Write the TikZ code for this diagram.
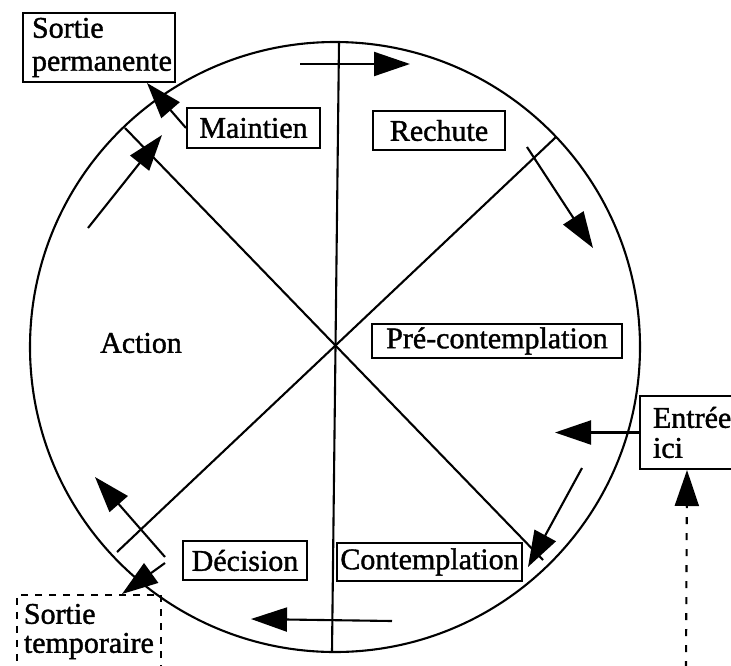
\documentclass[tikz,border=0pt]{standalone}
\usepackage{fontspec}
\setmainfont{Liberation Serif}[FakeBold=1.3]
\usetikzlibrary{arrows.meta,calc}
\begin{document}
\begin{tikzpicture}[x=1pt,y=-1pt,
  every node/.style={font=\fontsize{30}{31}\selectfont, inner sep=0pt},
  stage/.style={draw, line width=2pt},
  twoline/.style={stage, align=left},
  link/.style={line width=2.1pt},
  flow/.style={line width=2.1pt, -{Triangle[length=36pt,width=24pt]}},
  hint/.style={line width=1.8pt, dash pattern=on 7pt off 7pt}]
\useasboundingbox (0,0) rectangle (731,665);

% wheel: circle, vertical diameter and two diagonals
\coordinate (c) at (335,347);
\draw[link] (c) circle[radius=305pt];
\coordinate (top) at (339,42);
\coordinate (bot) at (332,652);
\coordinate (nw) at (125,128);
\coordinate (se) at (543,560);
\coordinate (ne) at (556,137);
\coordinate (sw) at (117,552);
\draw[link] (top) -- (bot);
\draw[link] (nw) -- (se);
\draw[link] (ne) -- (sw);

% stage labels
\node[stage, minimum width=133pt, minimum height=40pt] (maint) at (253.5,128) {Maintien};
\node[stage, minimum width=132pt, minimum height=39pt] (rech) at (439,130.5) {Rechute};
\node[stage, minimum width=250pt, minimum height=34pt] (pre) at (497,341) {Pré-contemplation};
\node (act) at (141,343) {Action};
\node[stage, minimum width=124pt, minimum height=39pt] (deci) at (245,560.5) {Décision};
\node[stage, minimum width=185pt, minimum height=38pt] (cont) at (429.5,562) {Contemplation};

% entry and exit boxes
\node[twoline, font=\fontsize{30}{33}\selectfont, minimum width=152pt, minimum height=69pt, text width=134pt] (sp) at (99,47.5) {Sortie\\permanente};
\node[twoline, font=\fontsize{30}{30}\selectfont, minimum width=140pt, minimum height=73pt, text width=114pt] (entree) at (710,432.5) {Entrée\\ici};
\node[draw, hint, align=left, font=\fontsize{30}{29}\selectfont, anchor=north west,
      inner xsep=7pt, inner ysep=9pt, minimum width=142pt] (st) at (16,594) {Sortie\\temporaire};

% cycle arrows
\coordinate (a1s) at (300,64);  \coordinate (a1e) at (410,64);
\coordinate (a2s) at (527,147); \coordinate (a2e) at (593,248);
\coordinate (a3e) at (555,432.5);
\coordinate (a4s) at (582,468); \coordinate (a4e) at (528,567);
\coordinate (a5s) at (392,621); \coordinate (a5e) at (251,619);
\coordinate (a6s) at (165,557); \coordinate (a6e) at (95,477);
\coordinate (a7s) at (165,563);
\coordinate (a8s) at (88,228);  \coordinate (a8e) at (162,135);
\coordinate (a10s) at (686,668);

\draw[flow] (a1s) -- (a1e);
\draw[flow] (a2s) -- (a2e);
\draw[flow] (entree.west) -- (a3e);
\draw[flow] (a4s) -- (a4e);
\draw[flow] (a5s) -- (a5e);
\draw[flow] (a6s) -- (a6e);
\draw[flow] (a7s) -- ($(st.north west)+(106,0)$);
\draw[flow] (a8s) -- (a8e);
\draw[flow] (maint.west) -- ($(sp.south west)+(125,0)$);
\draw[flow, dash pattern=on 7pt off 9pt] (a10s) -- ($(entree.south west)+(48,0)$);
\end{tikzpicture}
\end{document}
